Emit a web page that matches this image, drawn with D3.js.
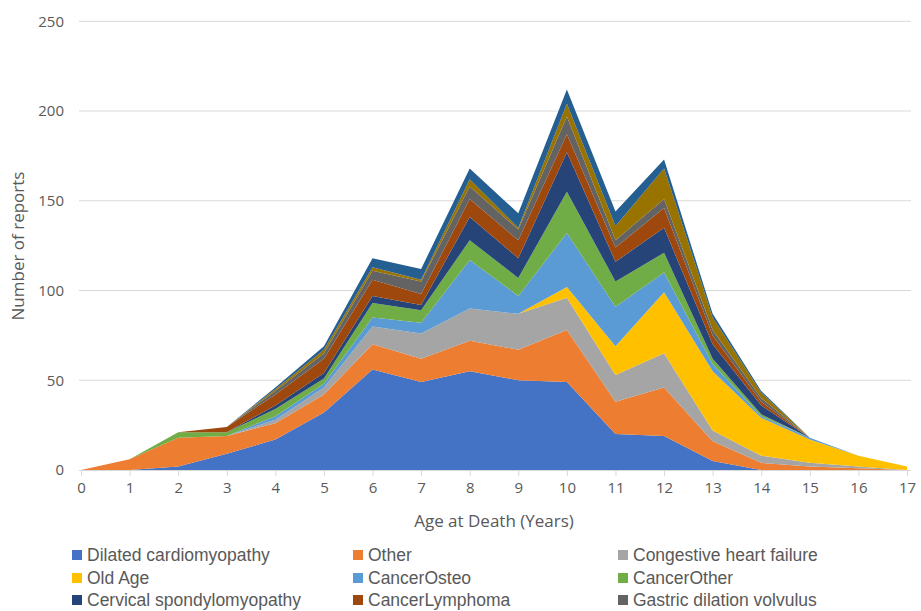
<!DOCTYPE html>
<html><head><meta charset="utf-8">
<script src="https://cdn.jsdelivr.net/npm/d3@7"></script>
<style>body{margin:0;background:#fff;}svg{display:block;}</style>
</head><body>
<svg id="chart" width="921" height="611"></svg>
<script>
const ages = [0,1,2,3,4,5,6,7,8,9,10,11,12,13,14,15,16,17];
const seriesNames = ["Dilated cardiomyopathy","Other","Congestive heart failure","Old Age","CancerOsteo","CancerOther","Cervical spondylomyopathy","CancerLymphoma","Gastric dilation volvulus","Series 10","Series 11"];
const legendShown = 9;
const dilatedCardiomyopathy = [0,0,2,9,17,32,56,49,55,50,49,20,19,5,0,0,0,0];
const otherCause            = [0,6,16,10,9,10,14,13,17,17,29,18,27,11,4,2,1,0];
const congestiveHeartFailure= [0,0,0,0,2,4,10,14,18,20,18,15,19,6,4,2,1,0];
const oldAge                = [0,0,0,0,0,0,0,0,0,0,6,16,34,33,21,13,6,2];
const cancerOsteo           = [0,0,0,0,2,2,5,6,27,10,30,22,11,4,1,1,0,0];
const cancerOther           = [0,0,3,2,4,3,8,7,11,10,23,14,11,3,1,0,0,0];
const cervicalSpondylo      = [0,0,0,0,2,3,4,3,13,11,22,11,14,8,5,0,0,0];
const cancerLymphoma        = [0,0,0,3,6,8,9,6,10,10,10,8,11,5,2,0,0,0];
const gastricDilation       = [0,0,0,0,2,3,5,7,7,6,10,4,5,3,2,0,0,0];
const series10              = [0,0,0,0,1,2,2,1,4,1,7,8,17,7,3,0,0,0];
const series11              = [0,0,0,0,1,2,5,6,6,8,8,8,5,2,1,0,0,0];
const yTicks = [0,50,100,150,200,250];
const colors = ["#4472C4","#ED7D31","#A5A5A5","#FFC000","#5B9BD5","#70AD47","#264478","#9E480E","#636363","#997300","#255E91"];

const allSeries = [dilatedCardiomyopathy,otherCause,congestiveHeartFailure,oldAge,cancerOsteo,cancerOther,cervicalSpondylo,cancerLymphoma,gastricDilation,series10,series11];
const table = ages.map((a,i)=>{const r={age:a}; seriesNames.forEach((n,k)=>r[n]=allSeries[k][i]); return r;});

const svg = d3.select("#chart");
const x = d3.scaleLinear().domain([0,17]).range([81,907]);
const y = d3.scaleLinear().domain([0,250]).range([470,21.3]);

svg.append("g").selectAll("line").data(yTicks.filter(t=>t>0)).join("line")
  .attr("x1",79).attr("x2",911).attr("y1",d=>y(d)).attr("y2",d=>y(d))
  .attr("stroke","#d9d9d9").attr("stroke-width",1);

const stack = d3.stack().keys(seriesNames);
const layers = stack(table);
const area = d3.area().x(d=>x(d.data.age)).y0(d=>y(d[0])).y1(d=>y(d[1]));
svg.append("g").selectAll("path").data(layers).join("path")
  .attr("d",area).attr("fill",(d,i)=>colors[i]);

const xAxis = d3.axisBottom(x).tickValues(ages).tickSize(6).tickPadding(6).tickFormat(d3.format("d"));
const gx = svg.append("g").attr("transform","translate(0,470)").call(xAxis);
gx.select(".domain").attr("stroke","#d9d9d9").attr("d","M79,0.5H911");
gx.selectAll(".tick line").attr("stroke","#d9d9d9");
gx.selectAll("text").attr("fill","#595959").style("font-family","'Open Sans', sans-serif").style("font-size","15px");

const yAxis = d3.axisLeft(y).tickValues(yTicks).tickSize(0).tickPadding(14);
const gy = svg.append("g").attr("transform","translate(78,0)").call(yAxis);
gy.select(".domain").remove();
gy.selectAll("text").attr("fill","#595959").style("font-family","'Open Sans', sans-serif").style("font-size","15px");

svg.append("text").attr("x",494).attr("y",527).attr("text-anchor","middle")
  .attr("fill","#595959").style("font-family","'Open Sans', sans-serif").style("font-size","17px")
  .text("Age at Death (Years)");
svg.append("text").attr("transform","translate(24,246) rotate(-90)").attr("text-anchor","middle")
  .attr("fill","#595959").style("font-family","'Open Sans', sans-serif").style("font-size","17px")
  .text("Number of reports");

const colX = [72,353,618];
const rowY = [555,578,600];
const leg = svg.append("g").selectAll("g").data(seriesNames.slice(0,legendShown)).join("g")
  .attr("transform",(d,i)=>`translate(${colX[i%3]},${rowY[Math.floor(i/3)]})`);
leg.append("rect").attr("x",0).attr("y",-5).attr("width",10).attr("height",10).attr("fill",(d,i)=>colors[i]);
leg.append("text").attr("x",15).attr("y",0).attr("dy","0.35em")
  .attr("fill","#595959").style("font-family","'Liberation Sans',sans-serif").style("font-size","17.5px")
  .text(d=>d);
</script>
</body></html>
